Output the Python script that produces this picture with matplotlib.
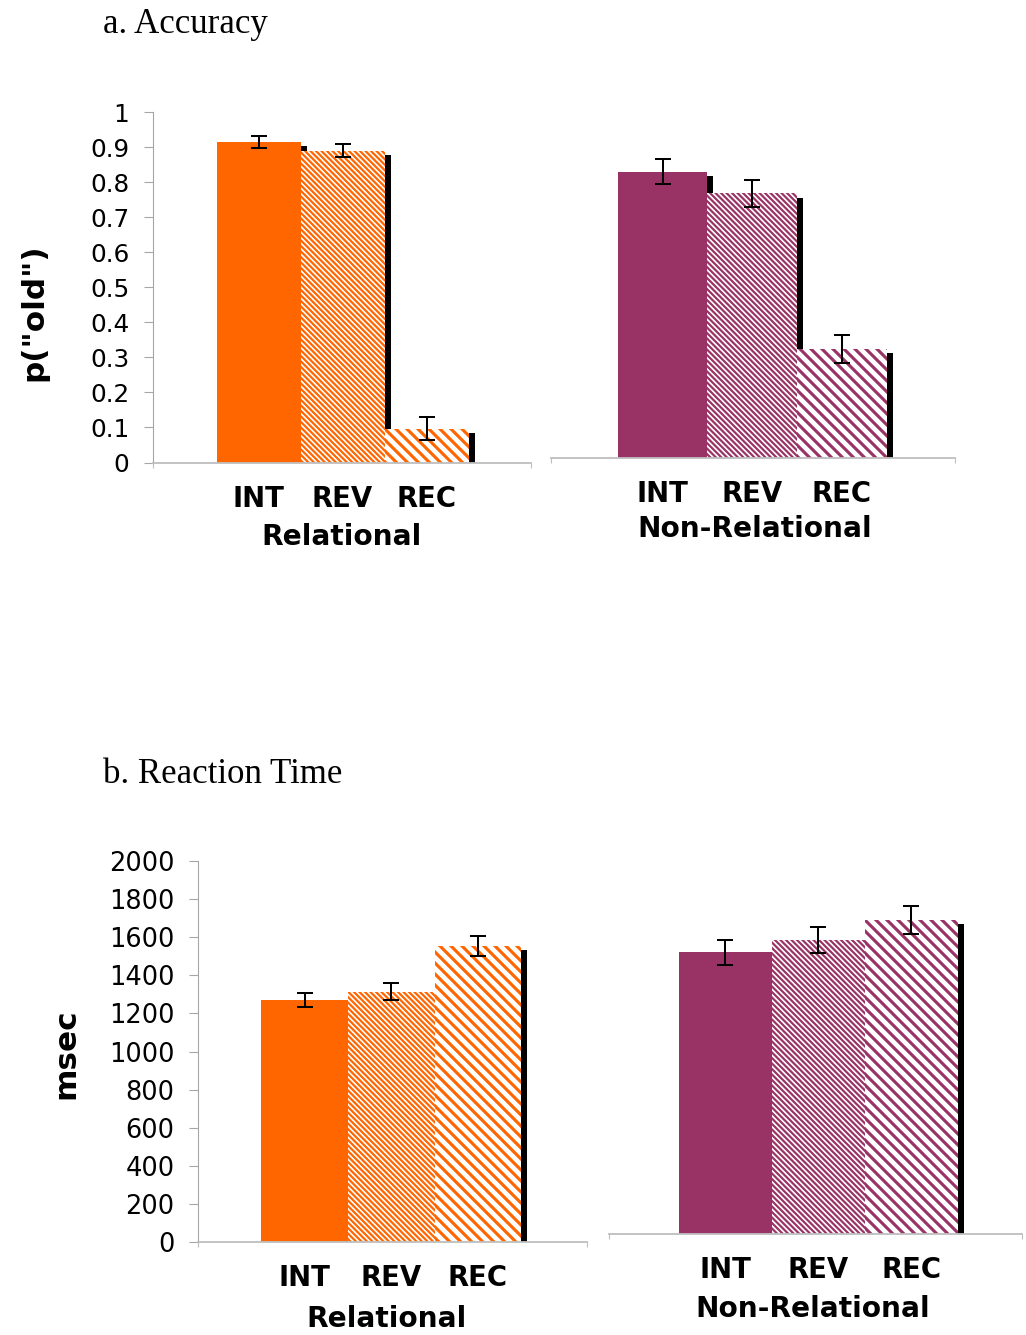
import matplotlib
matplotlib.use("Agg")
import matplotlib.pyplot as plt
from matplotlib.transforms import ScaledTranslation

# dados
conds = ["INT", "REV", "REC"]

acc_rel = [0.915, 0.89, 0.097]
acc_rel_err = [0.017, 0.018, 0.032]
acc_non = [0.815, 0.753, 0.31]
acc_non_err = [0.035, 0.038, 0.04]

rt_rel = [1268, 1313, 1553]
rt_rel_err = [37, 44, 54]
rt_non = [1476, 1541, 1646]
rt_non_err = [67, 66, 75]

acc_ticks = [0, 0.1, 0.2, 0.3, 0.4, 0.5, 0.6, 0.7, 0.8, 0.9, 1.0]
acc_labels = ["0", "0.1", "0.2", "0.3", "0.4", "0.5", "0.6", "0.7", "0.8", "0.9", "1"]
rt_ticks = [0, 200, 400, 600, 800, 1000, 1200, 1400, 1600, 1800, 2000]

laranja = "#FF6600"
roxo = "#993366"

W, H = 1026, 1335
DPI = 132
fig = plt.figure(figsize=(W / DPI, H / DPI), dpi=DPI)


def eixo(x0, x1, ytop, ybot):
    # cria eixo em coordenadas de pixel
    return fig.add_axes([x0 / W, 1 - ybot / H, (x1 - x0) / W, (ybot - ytop) / H])


def barras(ax, vals, errs, cor, xlim, ylim, rotulo, lab_xy):
    x = [0, 1, 2]
    ax.set_xlim(xlim)
    ax.set_ylim(ylim)
    # sombra preta deslocada para direita e para baixo
    sombra = ax.bar(x, vals, width=1.0, color="k", linewidth=0, zorder=1)
    off = ax.transData + ScaledTranslation(6.0 / DPI, -4.5 / DPI, fig.dpi_scale_trans)
    for p in sombra:
        p.set_transform(off)
    hatches = [None, "\\" * 8, "\\" * 4]
    hlw = [1.0, 1.2, 1.7]
    for i in range(3):
        with plt.rc_context({"hatch.linewidth": hlw[i]}):
            if hatches[i] is None:
                b = ax.bar(x[i], vals[i], width=1.0, color=cor, linewidth=0, zorder=2)
            else:
                b = ax.bar(x[i], vals[i], width=1.0, facecolor="white", edgecolor=cor,
                           hatch=hatches[i], linewidth=0, zorder=2)
        for p in b:
            if hasattr(p, "set_hatch_linewidth"):
                p.set_hatch_linewidth(hlw[i])
    ax.errorbar(x, vals, yerr=errs, fmt="none", ecolor="k", elinewidth=1.1,
                capsize=4.6, capthick=1.1, zorder=5)
    for s in ["top", "right"]:
        ax.spines[s].set_visible(False)
    ax.spines["bottom"].set_color("#bfbfbf")
    ax.spines["bottom"].set_linewidth(1.0)
    ax.set_xticks(x, conds)
    ax.tick_params(axis="x", which="major", length=0, pad=12)
    for t in ax.get_xticklabels():
        t.set_fontweight("bold")
        t.set_fontsize(15)
    ax.set_xticks(list(xlim), minor=True)
    ax.tick_params(axis="x", which="minor", length=2.5, width=0.6, color="#bfbfbf",
                   direction="out")
    ax.set_xlabel(rotulo, fontsize=15.3, fontweight="bold", va="top")
    ax.xaxis.set_label_coords(lab_xy[0], lab_xy[1])


def eixo_y(ax, ticks, labels, fs, ylab, ylab_xy):
    ax.spines["left"].set_color("#a6a6a6")
    ax.spines["left"].set_linewidth(0.6)
    ax.set_yticks(ticks, labels)
    ax.tick_params(axis="y", length=5, width=0.6, color="#a6a6a6", pad=7.6, labelsize=fs)
    ax.set_ylabel(ylab, fontsize=17, fontweight="bold")
    ax.yaxis.set_label_coords(ylab_xy[0], ylab_xy[1])


def sem_y(ax):
    ax.spines["left"].set_visible(False)
    ax.set_yticks([])


# painel a
ax1 = eixo(152.5, 531, 112, 462.5)
barras(ax1, acc_rel, acc_rel_err, laranja, (-1.262, 3.244), (0, 1), "Relational", (0.5, -0.173))
eixo_y(ax1, acc_ticks, acc_labels, 13.5, 'p("old")', (-0.276, 0.43))

ax2 = eixo(551, 955, 106.7, 457.7)
barras(ax2, acc_non, acc_non_err, roxo, (-1.243, 3.26), (0, 1), "Non-Relational", (0.505, -0.163))
sem_y(ax2)

# painel b
ax3 = eixo(197.7, 587, 860.7, 1242.3)
barras(ax3, rt_rel, rt_rel_err, laranja, (-1.234, 3.257), (0, 2000), "Relational", (0.486, -0.164))
eixo_y(ax3, rt_ticks, [str(t) for t in rt_ticks], 14, "msec", (-0.302, 0.493))

ax4 = eixo(609, 1022, 852.4, 1234)
barras(ax4, rt_non, rt_non_err, roxo, (-1.25, 3.19), (0, 2000), "Non-Relational", (0.494, -0.16))
sem_y(ax4)

fig.text(103 / W, 1 - 33 / H, "a. Accuracy", family="Liberation Serif", fontsize=19, va="baseline")
fig.text(103 / W, 1 - 782.7 / H, "b. Reaction Time", family="Liberation Serif", fontsize=19,
         va="baseline")

fig.savefig("out.png", dpi=DPI)
plt.close()
